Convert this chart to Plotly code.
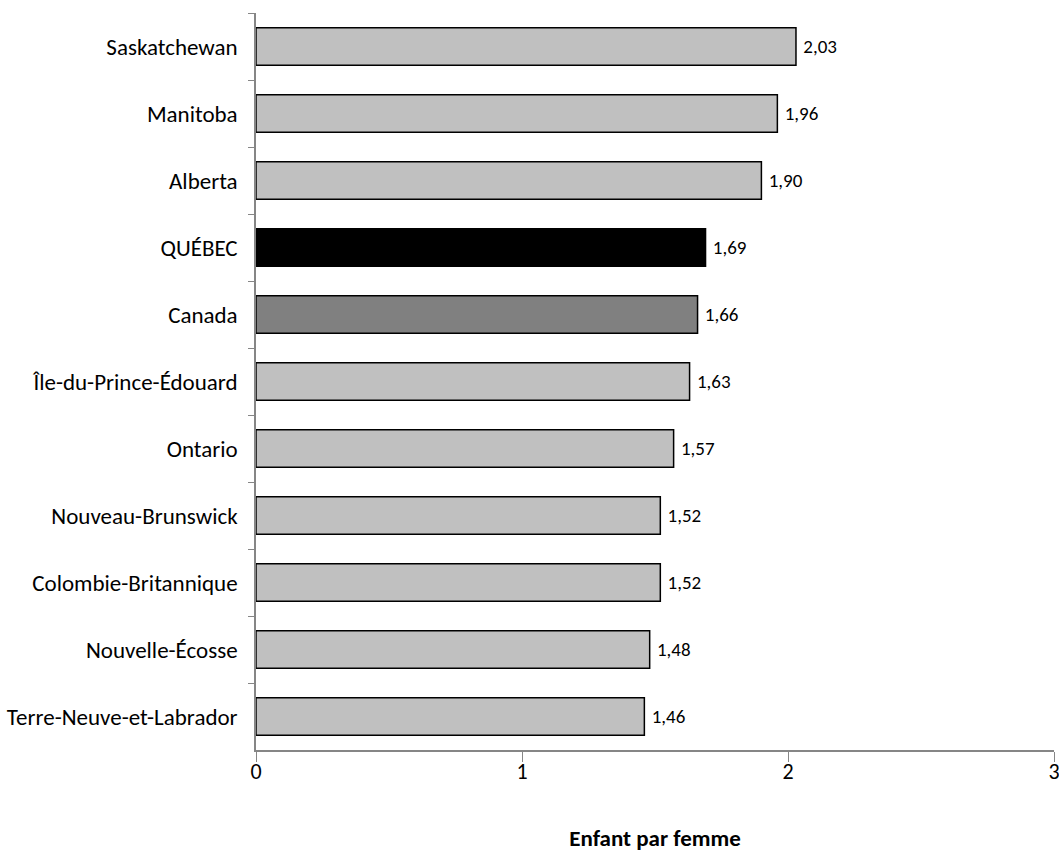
import plotly.graph_objects as go

regions = ["Saskatchewan", "Manitoba", "Alberta", "QUÉBEC", "Canada",
           "Île-du-Prince-Édouard", "Ontario", "Nouveau-Brunswick",
           "Colombie-Britannique", "Nouvelle-Écosse", "Terre-Neuve-et-Labrador"]
values = [2.03, 1.96, 1.90, 1.69, 1.66, 1.63, 1.57, 1.52, 1.52, 1.48, 1.46]
colors = ["#C0C0C0", "#C0C0C0", "#C0C0C0", "#000000", "#808080",
          "#C0C0C0", "#C0C0C0", "#C0C0C0", "#C0C0C0", "#C0C0C0", "#C0C0C0"]
labels = ["\u00a0" + f"{v:.2f}".replace(".", ",") for v in values]

FONT = "Carlito, Lato, sans-serif"

fig = go.Figure(go.Bar(
    x=values, y=regions, orientation="h",
    marker=dict(color=colors, line=dict(color="#000000", width=1.5)),
    width=0.56,
    text=labels, textposition="outside", cliponaxis=False,
    textfont=dict(family=FONT, size=19, color="#000000"),
    hoverinfo="skip",
))

fig.update_layout(
    width=1059, height=861,
    margin=dict(l=256, r=5, t=13, b=111),
    paper_bgcolor="white", plot_bgcolor="white",
    showlegend=False,
    font=dict(family=FONT, color="#000000"),
    xaxis=dict(range=[0, 3], tickvals=[0, 1, 2, 3], ticktext=["0", "1", "2", "3"],
               automargin=False, ticklabeloverflow="allow",
               showgrid=False, zeroline=False, showline=True, linecolor="#868686",
               linewidth=1.5, ticks="outside", tickcolor="#868686", ticklen=10,
               tickfont=dict(family=FONT, size=22), ticklabelstandoff=-9,
               title=dict(text="<b>Enfant par femme</b>", font=dict(family=FONT, size=23),
                          standoff=46)),
    yaxis=dict(autorange="reversed", showgrid=False, zeroline=False, showline=True,
               automargin=False,
               linecolor="#868686", linewidth=1.5, ticks="outside", tickcolor="#868686",
               ticklen=6, tickson="boundaries",
               tickfont=dict(family=FONT, size=23), ticklabelstandoff=12),
)

fig.write_html("out.html", config={"displayModeBar": False},
               post_script="document.body.style.margin='0';document.body.style.overflow='hidden';window.dispatchEvent(new Event('resize'));")
